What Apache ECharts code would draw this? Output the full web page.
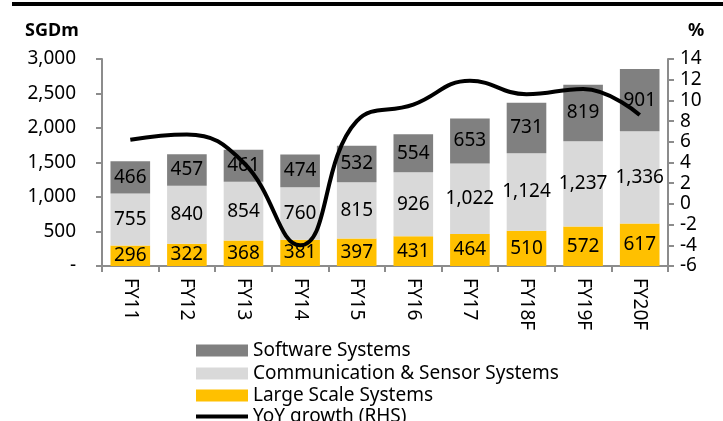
<!DOCTYPE html>
<html>
<head>
<meta charset="utf-8">
<script src="https://cdn.jsdelivr.net/npm/echarts@6/dist/echarts.min.js"></script>
<style>
html,body{margin:0;padding:0;background:#fff;}
#chart{width:723px;height:421px;}
</style>
</head>
<body>
<div id="chart"></div>
<script>
// 财年 x轴
var years = ['FY11','FY12','FY13','FY14','FY15','FY16','FY17','FY18F','FY19F','FY20F'];
var largeScale = [296,322,368,381,397,431,464,510,572,617];
var commSensor = [755,840,854,760,815,926,1022,1124,1237,1336];
var software = [466,457,461,474,532,554,653,731,819,901];
// 同比增长 右轴 %
var yoyGrowth = [6.2,6.7,4.0,-4.0,8.0,9.6,11.9,10.6,11.1,8.6];

var FONT = '"Noto Sans", sans-serif';
var axisGrey = '#8c8c8c';

function fmt(v){
  if (v === 0) return '-';
  return String(v).replace(/\B(?=(\d{3})+(?!\d))/g, ',');
}

var myChart = echarts.init(document.getElementById('chart'));

var barLabel = {
  show: true,
  position: 'inside',
  color: '#000',
  fontFamily: FONT,
  fontSize: 19,
  formatter: function(p){ return fmt(p.value); }
};

// one legend per row so it never wraps into a 2nd column
function legendRow(name, top, color, h){
  return {
    orient: 'vertical',
    left: 191,
    top: top,
    itemWidth: 52,
    itemHeight: h,
    textStyle: { fontFamily: FONT, fontSize: 19, color: '#000' },
    data: [{ name: name, icon: 'rect', itemStyle: { color: color } }]
  };
}

myChart.setOption({
  animation: false,
  textStyle: { fontFamily: FONT },
  graphic: [{
    type: 'rect',
    shape: { x: 12, y: 2, width: 711, height: 4 },
    style: { fill: '#000' }
  }, {
    type: 'text',
    left: 25, top: 22,
    style: { text: 'SGDm', fontFamily: FONT, fontSize: 18, fontWeight: 'bold', fill: '#000' }
  }, {
    type: 'text',
    left: 688, top: 22,
    style: { text: '%', fontFamily: FONT, fontSize: 18, fontWeight: 'bold', fill: '#000' }
  }],
  legend: [
    legendRow('Software Systems', 336, '#808080', 12),
    legendRow('Communication & Sensor Systems', 359, '#d9d9d9', 12),
    legendRow('Large Scale Systems', 381, '#ffc000', 12),
    legendRow('YoY growth (RHS)', 402, '#000', 4)
  ],
  grid: { left: 102, right: 55, top: 59, bottom: 155 },
  xAxis: {
    type: 'category',
    data: years,
    axisLine: { lineStyle: { color: axisGrey, width: 2 } },
    axisTick: { show: true, length: 6, lineStyle: { color: axisGrey, width: 2 } },
    axisLabel: { rotate: -90, color: '#000', fontSize: 19, margin: 12, fontFamily: FONT }
  },
  yAxis: [{
    type: 'value',
    min: 0, max: 3000, interval: 500,
    splitLine: { show: false },
    axisLine: { show: true, lineStyle: { color: axisGrey, width: 2 } },
    axisTick: { show: true, length: 6, lineStyle: { color: axisGrey, width: 2 } },
    axisLabel: { color: '#000', fontSize: 19, margin: 26, fontFamily: FONT, formatter: fmt }
  }, {
    type: 'value',
    min: -6, max: 14, interval: 2,
    splitLine: { show: false },
    axisLine: { show: true, lineStyle: { color: axisGrey, width: 2 } },
    axisTick: { show: true, length: 6, lineStyle: { color: axisGrey, width: 2 } },
    axisLabel: { color: '#000', fontSize: 19, margin: 12, fontFamily: FONT }
  }],
  series: [{
    name: 'Large Scale Systems',
    type: 'bar',
    stack: 'rev',
    barWidth: '70%',
    data: largeScale,
    itemStyle: { color: '#ffc000' },
    label: barLabel
  }, {
    name: 'Communication & Sensor Systems',
    type: 'bar',
    stack: 'rev',
    data: commSensor,
    itemStyle: { color: '#d9d9d9' },
    label: barLabel
  }, {
    name: 'Software Systems',
    type: 'bar',
    stack: 'rev',
    data: software,
    itemStyle: { color: '#808080' },
    label: barLabel
  }, {
    name: 'YoY growth (RHS)',
    type: 'line',
    yAxisIndex: 1,
    data: yoyGrowth,
    smooth: 0.45,
    symbol: 'none',
    z: 5,
    lineStyle: { color: '#000', width: 4 },
    itemStyle: { color: '#000' }
  }]
});
</script>
</body>
</html>
